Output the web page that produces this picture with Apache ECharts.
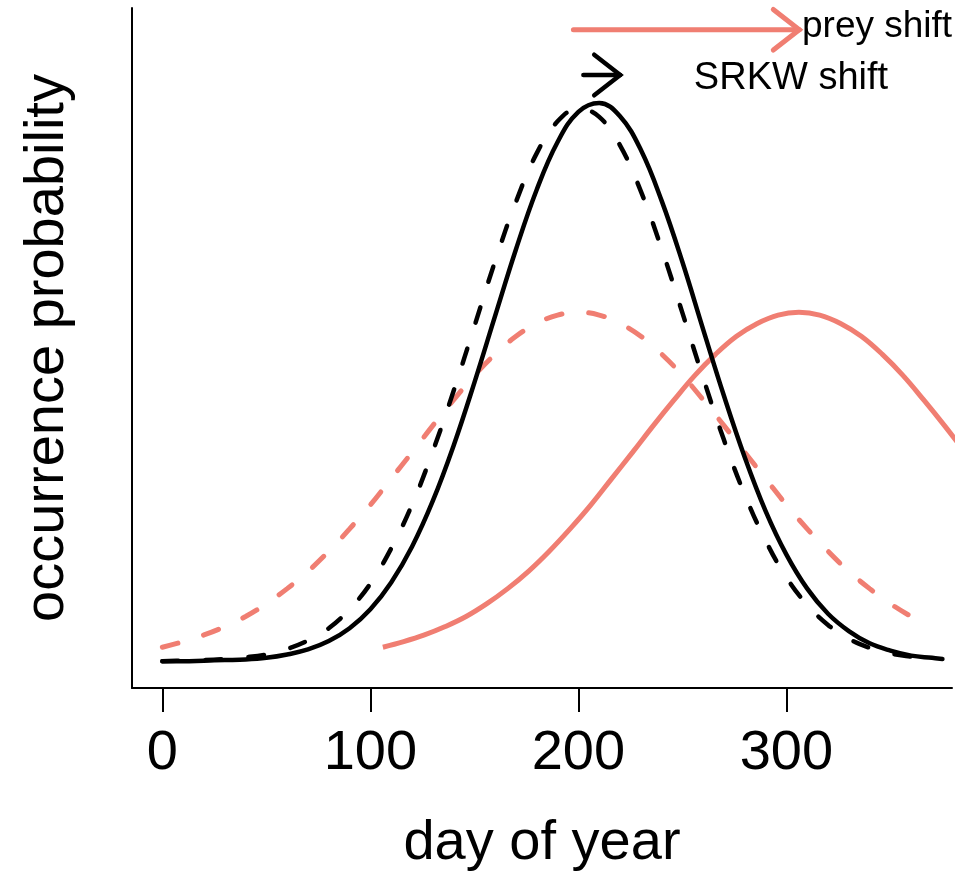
<!DOCTYPE html>
<html>
<head>
<meta charset="utf-8">
<script src="https://cdn.jsdelivr.net/npm/echarts@6/dist/echarts.min.js"></script>
<style>html,body{margin:0;padding:0;background:#fff;}#chart{width:961px;height:877px;}</style>
</head>
<body>
<div id="chart"></div>
<script>
// ---- data ----
const xTicks = [0, 100, 200, 300];

// SRKW (black) current / shifted occurrence
const srkwDays = [0,10,20,30,40,50,60,70,80,90,100,110,120,130,140,150,160,170,180,190,200,210,220,230,240,250,260,270,280,290,300,310,320,330,340,350,360,365];
const srkwBefore = [0.000,0.001,0.002,0.004,0.007,0.012,0.022,0.037,0.059,0.093,0.139,0.202,0.280,0.376,0.484,0.600,0.717,0.823,0.910,0.967,0.990,0.975,0.924,0.842,0.739,0.624,0.507,0.396,0.298,0.216,0.150,0.101,0.065,0.040,0.024,0.014,0.008,0.006];

const srkwAfterDays = [0,10,20,30,40,50,60,70,80,90,100,110,120,130,140,150,160,170,180,190,200,210,220,230,240,250,260,270,280,290,300,310,320,330,340,350,360,370,375];
const srkwAfter = [0.000,0.000,0.001,0.002,0.003,0.006,0.012,0.021,0.036,0.059,0.093,0.141,0.205,0.287,0.386,0.499,0.619,0.738,0.845,0.930,0.984,1.000,0.976,0.916,0.825,0.715,0.594,0.475,0.365,0.269,0.191,0.130,0.085,0.054,0.032,0.019,0.010,0.006,0.004];

// prey (salmon) current / shifted occurrence
const preyDays = [0,10,20,30,40,50,60,70,80,90,100,110,120,130,140,150,160,170,180,190,200,210,220,230,240,250,260,270,280,290,300,310,320,330,340,350,360,365];
const preyBefore = [0.025,0.035,0.047,0.062,0.080,0.103,0.130,0.161,0.197,0.237,0.280,0.327,0.374,0.422,0.468,0.512,0.550,0.582,0.605,0.620,0.625,0.620,0.605,0.582,0.550,0.512,0.468,0.422,0.374,0.327,0.280,0.237,0.197,0.161,0.130,0.103,0.080,0.071];

const preyAfterDays = [106,116,126,136,146,156,166,176,186,196,206,216,226,236,246,256,266,276,286,296,306,316,326,336,346,356,366,376,386,396,406];
const preyAfter = [0.025,0.035,0.047,0.062,0.080,0.103,0.130,0.161,0.197,0.237,0.280,0.327,0.374,0.422,0.468,0.512,0.550,0.582,0.605,0.620,0.625,0.620,0.605,0.582,0.550,0.512,0.468,0.422,0.374,0.327,0.280];

// shift arrows: [from day, to day, level]
const arrowNames = ['prey shift', 'SRKW shift'];
const arrowFrom = [197.6, 202.4];
const arrowTo = [306.2, 220.1];
const arrowLevel = [1.131, 1.050];
// arrow captions: [day, level]
const captionDay = [307.5, 302.2];
const captionLevel = [1.136, 1.043];

// ---- chart ----
const FONT = '"Liberation Sans", Arial, Helvetica, sans-serif';
const SALMON = '#F07E72';
const zip = (xs, ys) => xs.map((x, i) => [x, ys[i]]);

const chart = echarts.init(document.getElementById('chart'), null, {renderer: 'canvas'});

const arrowData = arrowNames.map((n, i) => [arrowFrom[i], arrowTo[i], arrowLevel[i], captionDay[i], captionLevel[i]]);
const arrowColors = [SALMON, '#000000'];
const captionAlign = ['left', 'center'];
const captionSize = [37, 38];

chart.setOption({
  animation: false,
  backgroundColor: '#ffffff',
  grid: {left: 132, right: 9, top: 8, bottom: 187},
  xAxis: {
    type: 'value',
    min: -14.6, max: 379.6,
    name: 'day of year',
    nameLocation: 'middle',
    nameGap: 128,
    nameTextStyle: {fontFamily: FONT, fontSize: 56, color: '#000'},
    splitLine: {show: false},
    axisLine: {show: true, onZero: false, lineStyle: {color: '#000', width: 2}},
    axisTick: {show: true, customValues: xTicks, length: 24, lineStyle: {color: '#000', width: 2}},
    axisLabel: {show: true, customValues: xTicks, margin: 38, fontFamily: FONT, fontSize: 56, color: '#000'}
  },
  yAxis: {
    type: 'value',
    min: -0.048, max: 1.17,
    name: 'occurrence probability',
    nameLocation: 'middle',
    nameGap: 56,
    nameTextStyle: {fontFamily: FONT, fontSize: 56, color: '#000'},
    splitLine: {show: false},
    axisLine: {show: true, onZero: false, lineStyle: {color: '#000', width: 2}},
    axisTick: {show: false},
    axisLabel: {show: false}
  },
  series: [
    {
      name: 'prey before', type: 'line', data: zip(preyDays, preyBefore),
      showSymbol: false, smooth: 0.4,
      lineStyle: {color: SALMON, width: 5, type: [16, 27], cap: 'round'}
    },
    {
      name: 'prey after', type: 'line', data: zip(preyAfterDays, preyAfter),
      showSymbol: false, smooth: 0.4, clip: true,
      lineStyle: {color: SALMON, width: 5, cap: 'butt'}
    },
    {
      name: 'SRKW before', type: 'line', data: zip(srkwDays, srkwBefore),
      showSymbol: false, smooth: 0.4,
      lineStyle: {color: '#000', width: 4.5, type: [16, 27], cap: 'round'}
    },
    {
      name: 'SRKW after', type: 'line', data: zip(srkwAfterDays, srkwAfter),
      showSymbol: false, smooth: 0.4,
      lineStyle: {color: '#000', width: 4.5, cap: 'round'}
    },
    {
      name: 'shifts', type: 'custom', data: arrowData,
      encode: {x: [0, 1, 3], y: [2, 4]},
      clip: false,
      renderItem: function (params, api) {
        const i = params.dataIndex;
        const p0 = api.coord([api.value(0), api.value(2)]);
        const p1 = api.coord([api.value(1), api.value(2)]);
        const pc = api.coord([api.value(3), api.value(4)]);
        const L = 33, a = 38 * Math.PI / 180;
        const col = arrowColors[i];
        const w = i === 0 ? 5 : 4.5;
        return {
          type: 'group',
          children: [
            {type: 'line', shape: {x1: p0[0], y1: p0[1], x2: p1[0], y2: p1[1]},
             style: {stroke: col, lineWidth: w, lineCap: 'round'}},
            {type: 'polyline', shape: {points: [
               [p1[0] - L * Math.cos(a), p1[1] - L * Math.sin(a)],
               [p1[0], p1[1]],
               [p1[0] - L * Math.cos(a), p1[1] + L * Math.sin(a)]]},
             style: {stroke: col, lineWidth: w, lineCap: 'round', lineJoin: 'miter', fill: null}},
            {type: 'text', x: pc[0], y: pc[1],
             style: {text: arrowNames[i], fill: '#000', font: captionSize[i] + 'px ' + FONT,
                     align: captionAlign[i], verticalAlign: 'middle'}}
          ]
        };
      }
    }
  ]
});
</script>
</body>
</html>
